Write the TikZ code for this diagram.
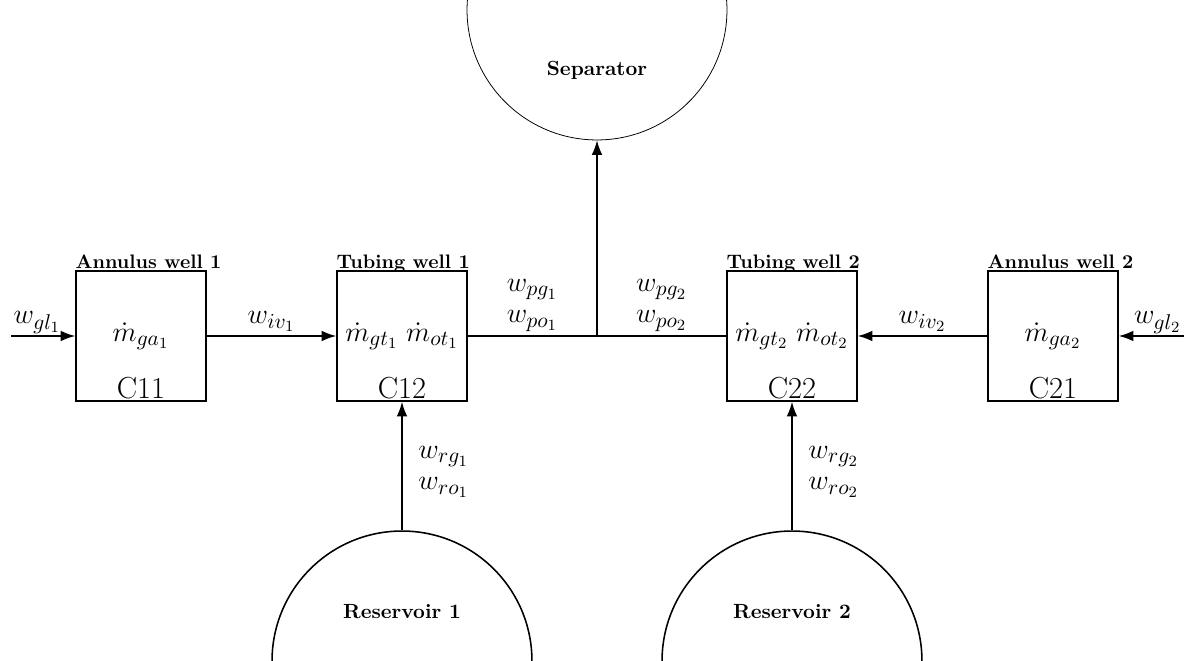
\documentclass[tikz,border=0pt]{standalone}
\usepackage{amsmath}
\usepackage{amssymb}
\usetikzlibrary{arrows.meta}

\begin{document}
\begin{tikzpicture}[x=0.018cm,y=-0.018cm,
    big/.style={font=\fontsize{15.6}{19}\selectfont},
    box/.style={draw,thick,minimum size=2.34cm,inner sep=0pt,big},
    tank/.style={draw,circle,minimum size=4.68cm,inner sep=0pt},
    title/.style={anchor=base west,inner sep=0pt,yshift=1pt,font=\bfseries},
    lbl/.style={big,inner sep=2pt},
    flow/.style={thick,-{Latex[length=7.5pt,width=5.5pt]}}]
    \useasboundingbox (0,0) rectangle (1188,661);
    % compartments
    \node[box] (ann1) at (141,336) {$\dot m_{ga_1}$};
    \node[box] (tub1) at (402,336) {$\dot m_{gt_1}\;\dot m_{ot_1}$};
    \node[box] (tub2) at (792,336) {$\dot m_{gt_2}\;\dot m_{ot_2}$};
    \node[box] (ann2) at (1053,336) {$\dot m_{ga_2}$};
    \node[title] (ann1t) at (ann1.north west) {Annulus well 1};
    \node[title] (tub1t) at (tub1.north west) {Tubing well 1};
    \node[title] (tub2t) at (tub2.north west) {Tubing well 2};
    \node[title] (ann2t) at (ann2.north west) {Annulus well 2};
    \node[anchor=south,big,inner sep=1pt] (c11) at (ann1.south) {C11};
    \node[anchor=south,big,inner sep=1pt] (c12) at (tub1.south) {C12};
    \node[anchor=south,big,inner sep=1pt] (c22) at (tub2.south) {C22};
    \node[anchor=south,big,inner sep=1pt] (c21) at (ann2.south) {C21};
    % separator and reservoirs
    \node[tank,thin] (sep) at (597,10) {};
    \node[font=\fontsize{10.5}{12}\bfseries] (sept) at (597,70) {Separator};
    \node[tank,thick] (res1) at (402,661) {};
    \node[font=\fontsize{10.5}{12}\bfseries] (res1t) at (402,612) {Reservoir 1};
    \node[tank,thick] (res2) at (792,661) {};
    \node[font=\fontsize{10.5}{12}\bfseries] (res2t) at (792,612) {Reservoir 2};
    \coordinate (gl1) at (11,336);
    \coordinate (gl2) at (1184,336);
    \coordinate (jn) at (597,336);
    % flows
    \draw[flow] (gl1) node[lbl,anchor=south west,inner sep=1pt] {$w_{gl_1}$} -- (ann1);
    \draw[flow] (ann1) -- node[lbl,above] {$w_{iv_1}$} (tub1);
    \draw[thick] (tub1) -- node[lbl,above,align=center] {$w_{pg_1}$\\[-3pt]$w_{po_1}$} (jn)
        -- node[lbl,above,align=center] {$w_{pg_2}$\\[-3pt]$w_{po_2}$} (tub2);
    \draw[flow] (jn) -- (sep);
    \draw[flow] (res1) -- node[lbl,right=6pt,yshift=-3pt,align=center] {$w_{rg_1}$\\[-3pt]$w_{ro_1}$} (tub1);
    \draw[flow] (res2) -- node[lbl,right=6pt,yshift=-3pt,align=center] {$w_{rg_2}$\\[-3pt]$w_{ro_2}$} (tub2);
    \draw[flow] (ann2) -- node[lbl,above] {$w_{iv_2}$} (tub2);
    \draw[flow] (gl2) node[lbl,anchor=south east,inner sep=1pt] {$w_{gl_2}$} -- (ann2);
\end{tikzpicture}
\end{document}
